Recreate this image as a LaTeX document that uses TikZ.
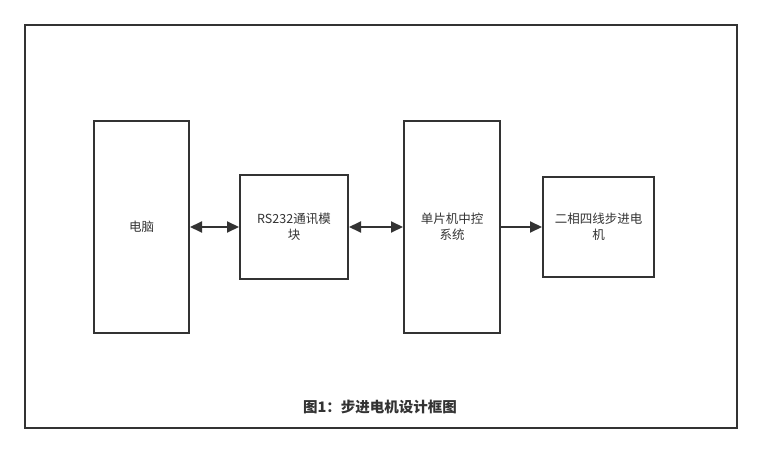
\documentclass[tikz,border=0pt]{standalone}
\usepackage{fontspec}
\setmainfont{Noto Sans CJK SC}
\usetikzlibrary{arrows.meta, positioning}
\definecolor{linegray}{HTML}{333333}
\tikzstyle{block} = [rectangle, draw=linegray, line width=2pt, text=linegray, align=center, font=\fontsize{12.5}{16}\selectfont]
\tikzstyle{arrow} = [draw=linegray, line width=2pt, -{Triangle[length=12pt,width=11pt]}]
\tikzstyle{darrow} = [draw=linegray, line width=2pt, {Triangle[length=12pt,width=11pt]}-{Triangle[length=12pt,width=11pt]}]

\begin{document}
\begin{tikzpicture}[x=1pt, y=-1pt]
        \useasboundingbox (0,0) rectangle (762,454);
        % outer frame
        \draw [draw=linegray, line width=2pt] (25,25) rectangle (737,428);

        % Nodes (blocks) in one row
        \node (pc) [block, minimum width=95pt, minimum height=212pt] at (141.5,227) {电脑};
        \node (rs232) [block, minimum width=108pt, minimum height=104pt] at (294,227) {RS232通讯模\\块};
        \node (mcu) [block, minimum width=96pt, minimum height=212pt] at (452,227) {单片机中控\\系统};
        \node (motor) [block, minimum width=111pt, minimum height=100pt] at (598.5,227) {二相四线步进电\\机};

        % Arrows
        \draw [darrow] (pc) -- (rs232);
        \draw [darrow] (rs232) -- (mcu);
        \draw [arrow] (mcu) -- (motor);

        % caption
        \node (caption) [text=linegray, font=\fontsize{14.5}{17}\selectfont\bfseries] at (380,407) {图1：步进电机设计框图};
    \end{tikzpicture}
\end{document}
